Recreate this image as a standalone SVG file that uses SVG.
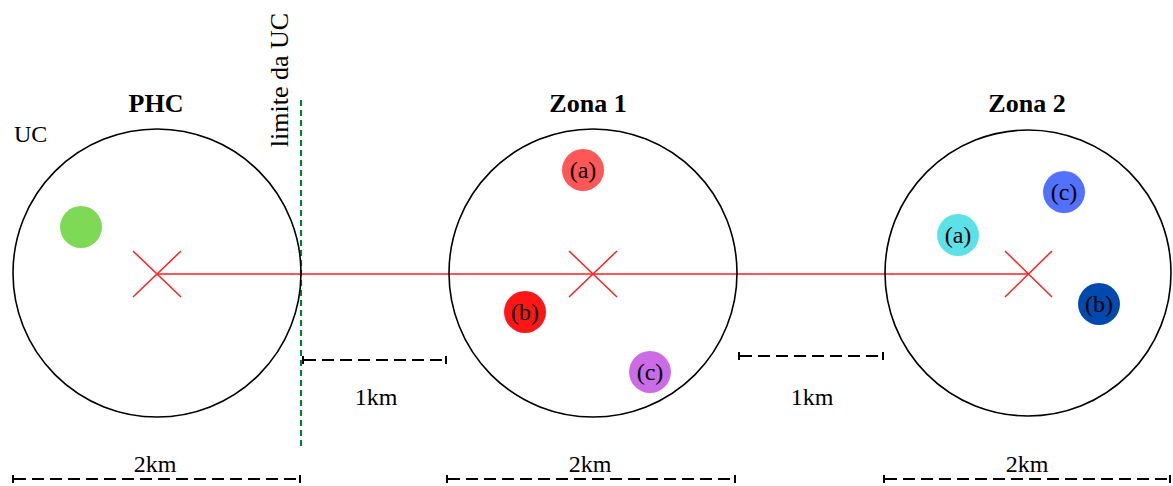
<svg xmlns="http://www.w3.org/2000/svg" width="1173" height="486" viewBox="0 0 1173 486">
<style>
text{font-family:"Liberation Serif","Times New Roman",serif;font-size:24px;fill:#000}
.t{text-anchor:middle}
.b{font-weight:bold;font-size:26px}
.lim{font-size:26px}
.zone{fill:none;stroke:#000;stroke-width:1.6}
.red{stroke:#ff1f1f;stroke-width:1.5;fill:none}
.dash{stroke:#000;stroke-width:2;stroke-dasharray:12 6;fill:none}
.tick{stroke:#000;stroke-width:2}
</style>
<rect width="1173" height="486" fill="#fff"/>
<g id="connectors">
<line class="red" x1="157" y1="274" x2="1028" y2="274"/>
<line x1="301" y1="100" x2="301" y2="448" stroke="#008037" stroke-width="2.2" stroke-dasharray="6 4"/>
</g>
<g id="phc">
<circle class="zone" cx="157" cy="273" r="144"/>
<text class="t b" x="156" y="112">PHC</text>
<text x="14" y="142">UC</text>
<circle cx="81" cy="227" r="21" fill="#7ed957"/>
<path class="red" d="M133 251L181 297M181 251L133 297"/>
</g>
<g id="limite">
<text class="t lim" transform="translate(288 80) rotate(-90)">limite da UC</text>
</g>
<g id="zona1">
<circle class="zone" cx="593" cy="273" r="144"/>
<text class="t b" x="588" y="112">Zona 1</text>
<path class="red" d="M569 251L617 297M617 251L569 297"/>
<circle cx="583" cy="170" r="21" fill="#ff5757"/>
<text class="t" x="583" y="178">(a)</text>
<circle cx="525" cy="312" r="21" fill="#ff1616"/>
<text class="t" x="525" y="320">(b)</text>
<circle cx="650" cy="372" r="21" fill="#cb6ce6"/>
<text class="t" x="650" y="380">(c)</text>
</g>
<g id="zona2">
<circle class="zone" cx="1028" cy="273" r="143"/>
<text class="t b" x="1027" y="112">Zona 2</text>
<path class="red" d="M1005 251L1052 297M1052 251L1005 297"/>
<circle cx="958" cy="235" r="21" fill="#5ce1e6"/>
<text class="t" x="958" y="243">(a)</text>
<circle cx="1064" cy="192" r="21" fill="#5271ff"/>
<text class="t" x="1064" y="200">(c)</text>
<circle cx="1099" cy="304" r="21" fill="#004aad"/>
<text class="t" x="1099" y="312">(b)</text>
</g>
<g id="scale1">
<line class="dash" x1="14" y1="479" x2="299" y2="479"/>
<line class="tick" x1="13" y1="475" x2="13" y2="483"/>
<line class="tick" x1="300" y1="475" x2="300" y2="483"/>
<text class="t" x="155" y="472">2km</text>
</g>
<g id="scale2">
<line class="dash" x1="448" y1="479" x2="734" y2="479"/>
<line class="tick" x1="447" y1="475" x2="447" y2="483"/>
<line class="tick" x1="735" y1="475" x2="735" y2="483"/>
<text class="t" x="590" y="472">2km</text>
</g>
<g id="scale3">
<line class="dash" x1="885" y1="479" x2="1169" y2="479"/>
<line class="tick" x1="884" y1="475" x2="884" y2="483"/>
<line class="tick" x1="1170" y1="475" x2="1170" y2="483"/>
<text class="t" x="1027" y="472">2km</text>
</g>
<g id="gap1">
<line class="dash" x1="304" y1="360" x2="445" y2="360"/>
<line class="tick" x1="303" y1="356" x2="303" y2="364"/>
<line class="tick" x1="446" y1="356" x2="446" y2="364"/>
<text class="t" x="376" y="405">1km</text>
</g>
<g id="gap2">
<line class="dash" x1="740" y1="356" x2="882" y2="356"/>
<line class="tick" x1="739" y1="352" x2="739" y2="360"/>
<line class="tick" x1="883" y1="352" x2="883" y2="360"/>
<text class="t" x="812" y="405">1km</text>
</g>
</svg>
